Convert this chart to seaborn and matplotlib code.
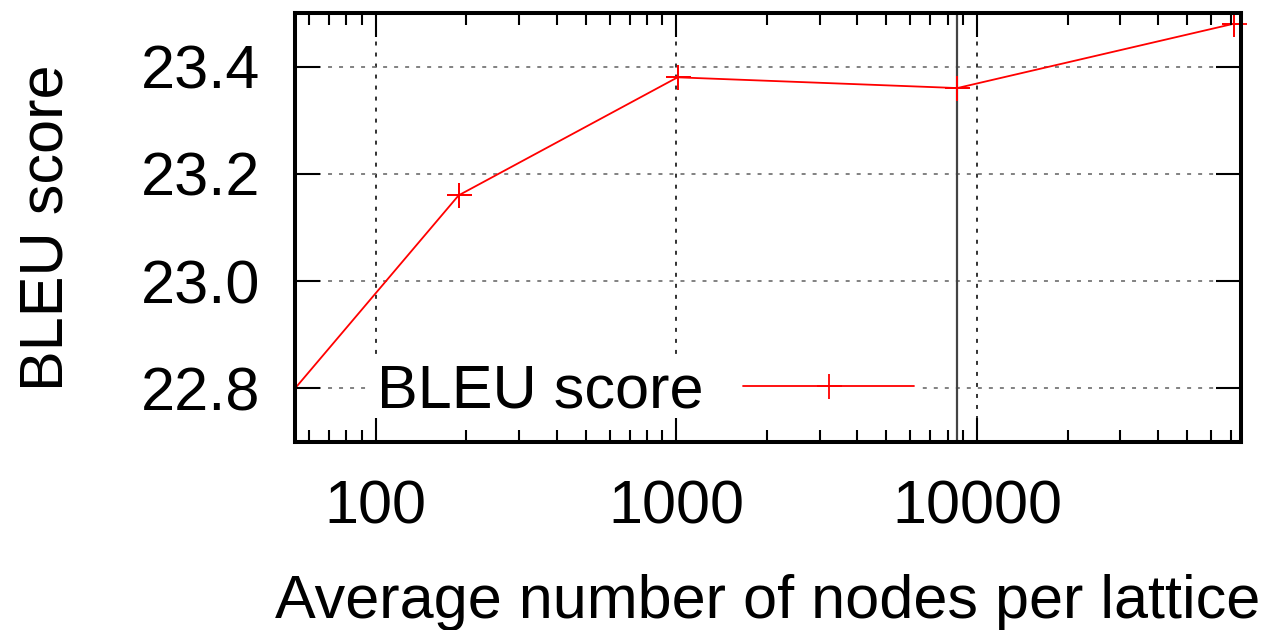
import numpy as np
import pandas as pd
import seaborn as sns
import matplotlib.pyplot as plt
from matplotlib.ticker import FixedLocator, NullFormatter

# values
nodes = [54, 189, 1010, 8600, 71500]
bleu = [22.80, 23.16, 23.38, 23.36, 23.48]
marker_line = 8600
x_ticks = [100, 1000, 10000]
x_tick_labels = ["100", "1000", "10000"]
y_ticks = [22.8, 23.0, 23.2, 23.4]

df = pd.DataFrame({"nodes": nodes, "bleu": bleu})

sns.set_style("ticks")
plt.rcParams["font.family"] = ["Liberation Sans", "DejaVu Sans"]
plt.rcParams.update({
    "text.color": "black", "axes.labelcolor": "black",
    "xtick.color": "black", "ytick.color": "black",
    "xtick.direction": "in", "ytick.direction": "in",
    "xtick.major.size": 17, "ytick.major.size": 18,
    "xtick.minor.size": 8.5, "xtick.major.width": 1.5,
    "ytick.major.width": 1.5, "xtick.minor.width": 1.5,
    "xtick.top": True, "ytick.right": True,
})

fig = plt.figure(figsize=(12.74, 6.30), dpi=100)
ax = fig.add_axes([0.2316, 0.2984, 0.9741 - 0.2316, 0.9794 - 0.2984])

ax.set_xscale("log")
ax.set_xlim(54, 75500)
ax.set_ylim(22.70, 23.50)

# grid: dotted black on x, dashed grey on y
for xv in x_ticks:
    ax.axvline(xv, color="#222222", lw=1.3, ls=(0, (2.2, 3.9)), zorder=1)
for yv in y_ticks:
    ax.axhline(yv, color="#777777", lw=1.3, ls=(0, (2.2, 3.9)), zorder=1)

ax.axvline(marker_line, color="#444444", lw=1.6, zorder=2)

sns.lineplot(data=df, x="nodes", y="bleu", ax=ax, color="#ff0000", lw=1.3,
             marker="+", markersize=18, markeredgewidth=1.3,
             markeredgecolor="#ff0000", label="BLEU score", zorder=3)
# points inside the frame keep their full marker, like gnuplot
inner = df[df["nodes"] > ax.get_xlim()[0]]
ax.plot(inner["nodes"], inner["bleu"], ls="none", marker="+", markersize=18,
        markeredgewidth=1.3, color="#ff0000", zorder=3, clip_on=False)

ax.xaxis.set_major_locator(FixedLocator(x_ticks))
ax.set_xticklabels(x_tick_labels)
minor = [m * 10 ** e for e in range(1, 5) for m in range(2, 10)]
ax.xaxis.set_minor_locator(FixedLocator(minor))
ax.xaxis.set_minor_formatter(NullFormatter())
ax.set_yticks(y_ticks)
ax.set_yticklabels([f"{v:.1f}" for v in y_ticks])

ax.tick_params(which="major", labelsize=44)
ax.tick_params(axis="y", which="major", pad=25)
ax.tick_params(axis="x", which="major", pad=27)

for s in ax.spines.values():
    s.set_linewidth(2.9)
    s.set_color("black")
    s.set_zorder(7)
ax.xaxis.set_zorder(6)
ax.yaxis.set_zorder(6)

ax.set_xlabel("Average number of nodes per lattice", fontsize=44, labelpad=27)
ax.set_ylabel("BLEU score", fontsize=44)
ax.yaxis.set_label_coords(-0.232, 0.5)

leg = ax.legend(loc="lower left", bbox_to_anchor=(0.08, 0.037), fontsize=44,
                markerfirst=False, handlelength=2.8, handletextpad=0.65,
                frameon=True, fancybox=False, framealpha=1, borderpad=0.1,
                borderaxespad=0)
leg.get_frame().set_edgecolor("none")
leg.get_frame().set_facecolor("white")
leg.set_zorder(5)

fig.savefig("out.png", dpi=100)
